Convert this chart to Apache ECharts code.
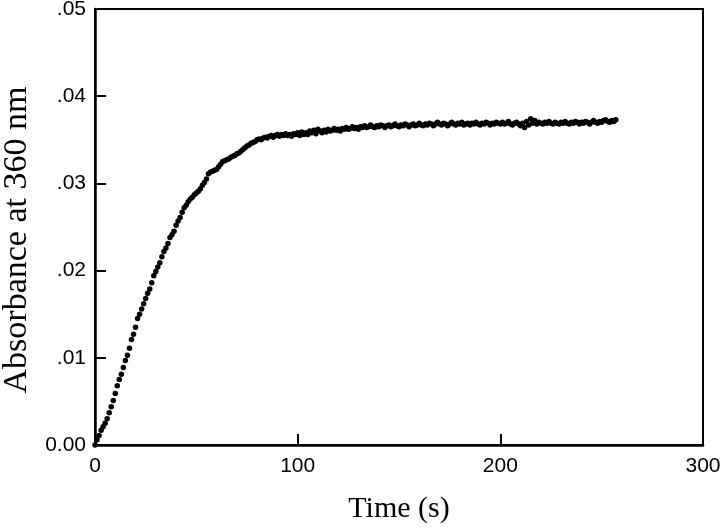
<!DOCTYPE html>
<html>
<head>
<meta charset="utf-8">
<script src="https://cdn.jsdelivr.net/npm/echarts@6/dist/echarts.min.js"></script>
<style>html,body{margin:0;padding:0;background:#fff;}#chart{width:720px;height:529px;}</style>
</head>
<body>
<div id="chart"></div>
<script>
const timeSec = [
0,1,2,3,4,5,6,7,8,9,10,11,12,13,14,15,16,17,18,19,
20,21,22,23,24,25,26,27,28,29,30,31,32,33,34,35,36,37,38,39,
40,41,42,43,44,45,46,47,48,49,50,51,52,53,54,55,56,57,58,59,
60,61,62,63,64,65,66,67,68,69,70,71,72,73,74,75,76,77,78,79,
80,81,82,83,84,85,86,87,88,89,90,91,92,93,94,95,96,97,98,99,
100,101,102,103,104,105,106,107,108,109,110,111,112,113,114,115,116,117,118,119,
120,121,122,123,124,125,126,127,128,129,130,131,132,133,134,135,136,137,138,139,
140,141,142,143,144,145,146,147,148,149,150,151,152,153,154,155,156,157,158,159,
160,161,162,163,164,165,166,167,168,169,170,171,172,173,174,175,176,177,178,179,
180,181,182,183,184,185,186,187,188,189,190,191,192,193,194,195,196,197,198,199,
200,201,202,203,204,205,206,207,208,209,210,211,212,213,214,215,216,217,218,219,
220,221,222,223,224,225,226,227,228,229,230,231,232,233,234,235,236,237,238,239,
240,241,242,243,244,245,246,247,248,249,250,251,252,253,254,255,256,257
];
const absorbance = [
0.0000,0.0006,0.0011,0.0017,0.0021,0.0025,0.0030,0.0037,0.0044,0.0051,
0.0059,0.0068,0.0075,0.0081,0.0089,0.0097,0.0103,0.0111,0.0121,0.0127,
0.0135,0.0145,0.0150,0.0156,0.0162,0.0168,0.0174,0.0179,0.0186,0.0194,
0.0199,0.0204,0.0209,0.0216,0.0222,0.0226,0.0231,0.0238,0.0241,0.0245,
0.0252,0.0257,0.0261,0.0267,0.0272,0.0275,0.0279,0.0282,0.0284,0.0287,
0.0289,0.0291,0.0294,0.0298,0.0301,0.0305,0.0311,0.0313,0.0314,0.0315,
0.0316,0.0319,0.0322,0.0325,0.0326,0.0327,0.0328,0.0330,0.0331,0.0332,
0.0334,0.0335,0.0337,0.0339,0.0341,0.0343,0.0344,0.0346,0.0347,0.0348,
0.0350,0.0351,0.0350,0.0352,0.0353,0.0352,0.0354,0.0355,0.0353,0.0355,
0.0356,0.0354,0.0356,0.0355,0.0357,0.0355,0.0356,0.0354,0.0357,0.0356,
0.0358,0.0355,0.0359,0.0356,0.0358,0.0356,0.0360,0.0358,0.0361,0.0357,
0.0362,0.0360,0.0358,0.0361,0.0359,0.0362,0.0360,0.0361,0.0363,0.0361,
0.0362,0.0360,0.0363,0.0362,0.0364,0.0362,0.0363,0.0365,0.0363,0.0364,
0.0362,0.0365,0.0364,0.0366,0.0364,0.0365,0.0367,0.0365,0.0364,0.0366,
0.0365,0.0367,0.0366,0.0364,0.0366,0.0367,0.0365,0.0366,0.0368,0.0366,
0.0365,0.0367,0.0366,0.0368,0.0367,0.0365,0.0367,0.0368,0.0366,0.0367,
0.0369,0.0367,0.0366,0.0368,0.0367,0.0369,0.0368,0.0366,0.0368,0.0370,
0.0368,0.0367,0.0369,0.0368,0.0366,0.0368,0.0370,0.0368,0.0367,0.0369,
0.0368,0.0370,0.0367,0.0368,0.0369,0.0367,0.0369,0.0368,0.0370,0.0368,
0.0367,0.0369,0.0368,0.0370,0.0369,0.0367,0.0369,0.0368,0.0370,0.0369,
0.0368,0.0370,0.0368,0.0369,0.0371,0.0368,0.0367,0.0369,0.0370,0.0368,
0.0366,0.0369,0.0364,0.0371,0.0367,0.0374,0.0369,0.0372,0.0368,0.0370,
0.0369,0.0368,0.0370,0.0369,0.0371,0.0369,0.0368,0.0370,0.0369,0.0368,
0.0370,0.0369,0.0371,0.0369,0.0368,0.0370,0.0369,0.0371,0.0370,0.0368,
0.0370,0.0369,0.0371,0.0370,0.0368,0.0370,0.0372,0.0370,0.0369,0.0371,
0.0370,0.0372,0.0373,0.0371,0.0370,0.0372,0.0371,0.0373
];
const xTickLabels = ['0','100','200','300'];
const yTickLabels = ['0.00','.01','.02','.03','.04','.05'];

const points = timeSec.map((t, i) => [t, absorbance[i]]);

const chart = echarts.init(document.getElementById('chart'), null, {renderer: 'canvas'});
chart.setOption({
  animation: false,
  backgroundColor: '#ffffff',
  grid: {left: 95, right: 17, top: 9, bottom: 84, show: true, borderColor: '#000', borderWidth: 2,
    backgroundColor: 'transparent', outerBoundsMode: 'none', containLabel: false},
  xAxis: {
    type: 'value', min: 0, max: 300, interval: 100,
    name: 'Time (s)', nameLocation: 'middle', nameGap: 49,
    nameTextStyle: {fontFamily: 'Liberation Serif', fontSize: 30, color: '#000'},
    axisLine: {show: true, lineStyle: {color: '#000', width: 2.5}},
    axisTick: {show: true, inside: true, length: 11, lineStyle: {color: '#000', width: 2}},
    axisLabel: {fontFamily: 'Liberation Sans', fontSize: 21, color: '#000', margin: 11,
      formatter: v => xTickLabels[Math.round(v / 100)]},
    splitLine: {show: false}
  },
  yAxis: {
    type: 'value', min: 0, max: 0.05, interval: 0.01,
    name: 'Absorbance at 360 nm', nameLocation: 'middle', nameGap: 60,
    nameTextStyle: {fontFamily: 'Liberation Serif', fontSize: 34, color: '#000', padding: [0, 26, 0, 0]},
    axisLine: {show: true, lineStyle: {color: '#000', width: 2.5}},
    axisTick: {show: true, inside: true, length: 11, lineStyle: {color: '#000', width: 2}},
    axisLabel: {fontFamily: 'Liberation Sans', fontSize: 21, color: '#000', margin: 9,
      formatter: v => yTickLabels[Math.round(v / 0.01)]},
    splitLine: {show: false}
  },
  series: [{
    type: 'scatter',
    data: points,
    symbol: 'circle',
    symbolSize: 5.5,
    itemStyle: {color: '#000', opacity: 1},
    clip: false
  }]
});
</script>
</body>
</html>
